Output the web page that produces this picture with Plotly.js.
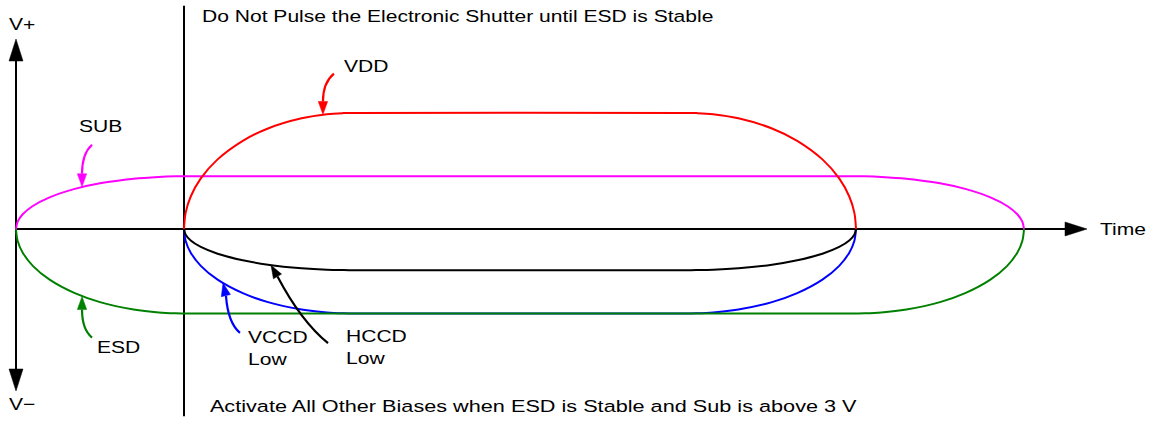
<!DOCTYPE html>
<html><head><meta charset="utf-8">
<script src="https://cdn.plot.ly/plotly-3.0.1.min.js"></script>
<style>
html,body{margin:0;padding:0;background:#fff;}
#chart{width:1154px;height:425px;}
.annotation-text{transform-box:fill-box;transform-origin:center;transform:scaleX(1.24);}
.annotation[data-index="1"] .annotation-text{transform:scaleX(1.275);}
</style></head><body><div id="chart"></div>
<script>
// ---- data (time in arbitrary units, voltage in arbitrary units) ----
const edgeTime = [0, 0.01, 0.04, 0.1, 0.2, 0.35, 0.5, 0.7, 0.85, 0.95, 1, 5, 5.05, 5.15, 5.3, 5.5, 5.65, 5.8, 5.9, 5.96, 5.99, 6];
const biasTime = [1, 1.01, 1.04, 1.1, 1.2, 1.35, 1.5, 1.7, 1.85, 1.95, 2, 4, 4.05, 4.15, 4.3, 4.5, 4.65, 4.8, 4.9, 4.96, 4.99, 5];
const subV  = [0, 0.7, 1.4, 2.18, 3.0, 3.8, 4.33, 4.77, 4.94, 4.994, 5, 5, 4.994, 4.94, 4.77, 4.33, 3.8, 3.0, 2.18, 1.4, 0.7, 0];
const esdV  = [0, -1.13, -2.24, -3.49, -4.8, -6.08, -6.93, -7.63, -7.91, -7.99, -8, -8, -7.99, -7.91, -7.63, -6.93, -6.08, -4.8, -3.49, -2.24, -1.13, 0];
const vddV  = [0, 1.55, 3.08, 4.8, 6.6, 8.36, 9.53, 10.49, 10.88, 10.986, 11, 11, 10.986, 10.88, 10.49, 9.53, 8.36, 6.6, 4.8, 3.08, 1.55, 0];
const hccdV = [0, -0.55, -1.09, -1.7, -2.34, -2.96, -3.38, -3.72, -3.86, -3.895, -3.9, -3.9, -3.895, -3.86, -3.72, -3.38, -2.96, -2.34, -1.7, -1.09, -0.55, 0];
const vccdV = [0, -1.13, -2.24, -3.49, -4.8, -6.08, -6.93, -7.63, -7.91, -7.99, -8, -8, -7.99, -7.91, -7.63, -6.93, -6.08, -4.8, -3.49, -2.24, -1.13, 0];

const seriesNames  = ['VCCD Low', 'HCCD Low', 'ESD', 'SUB', 'VDD'];
const seriesTimes  = [biasTime, biasTime, edgeTime, edgeTime, biasTime];
const seriesValues = [vccdV, hccdV, esdV, subV, vddV];
const seriesColors = ['#0000ff', '#000000', '#008000', '#ff00ff', '#ff0000'];

// label texts
const topNote    = 'Do Not Pulse the Electronic Shutter until ESD is Stable';
const bottomNote = 'Activate All Other Biases when ESD is Stable and Sub is above 3 V';
const axisLabels = ['V+', 'V\u2212', 'Time'];

// ---- layout helpers ----
const XR = [-16/168, (1154-16)/168];
const YR = [(229-425)/10.55, 229/10.55];

const traces = seriesNames.map((n, i) => ({
  type: 'scatter', mode: 'lines', name: n,
  x: seriesTimes[i], y: seriesValues[i],
  line: {color: seriesColors[i], width: 2, shape: 'spline', smoothing: 1},
  hoverinfo: 'skip', showlegend: false
}));

// screen offsets (dy downward) -> plotly pixel path (y up)
function P(p){ return p[0] + ',' + (-p[1]); }
function headPath(base, len, half){
  const L = Math.hypot(base[0], base[1]);
  const ux = base[0]/L, uy = base[1]/L;
  const bx = ux*len, by = uy*len;
  const px = -uy*half, py = ux*half;
  return 'M0,0L' + P([bx+px, by+py]) + 'L' + P([bx-px, by-py]) + 'Z';
}
function pixShape(t, v, path, color, filled, w){
  return {type:'path', xref:'x', yref:'y', xsizemode:'pixel', ysizemode:'pixel',
    xanchor:t, yanchor:v, path:path,
    line:{color:color, width: filled ? 0.5 : w},
    fillcolor: filled ? color : 'rgba(0,0,0,0)', layer:'above'};
}

const callouts = [
  {color:'#ff0000', t:1.827, v:10.85, tail:[11,-41], ctrl:[0,-32], base:[0,-13]},
  {color:'#ff00ff', t:0.393, v:4.0,   tail:[10,-42], ctrl:[0,-33], base:[0,-13]},
  {color:'#008000', t:0.393, v:-6.4,  tail:[10,41],  ctrl:[0,33],  base:[0,13]},
  {color:'#0000ff', t:1.232, v:-5.11, tail:[17,50],  ctrl:[5,40],  base:[3,13]},
  {color:'#000000', t:1.518, v:-3.43, tail:[57,78],  ctrl:[30,56], base:[6.5,11.3]}
];

const shapes = [
  // time axis
  {type:'line', xref:'x', yref:'y', x0:0, x1:6.33, y0:0, y1:0, line:{color:'#000', width:2}, layer:'below'},
  // voltage axis
  {type:'line', xref:'x', yref:'y', x0:0, x1:0, y0:-15.0, y1:17.7, line:{color:'#000', width:2}, layer:'below'},
  // marker line
  {type:'line', xref:'x', yref:'y', x0:1, x1:1, y0:-17.75, y1:21.15, line:{color:'#000', width:2}, layer:'below'},
  pixShape(6.375, 0, headPath([-22,0], 22, 7), '#000', true),
  pixShape(0, (229-39)/10.55, headPath([0,22], 22, 7), '#000', true),
  pixShape(0, (229-391)/10.55, headPath([0,-22], 22, 7), '#000', true)
];
callouts.forEach(c => {
  shapes.push(pixShape(c.t, c.v, 'M' + P(c.tail) + 'Q' + P(c.ctrl) + ' ' + P(c.base), c.color, false, 2.2));
  shapes.push(pixShape(c.t, c.v, headPath(c.base, 13, 4.7), c.color, true));
});

const F = {family:'"Liberation Sans", Arial, sans-serif', size:17, color:'#000'};
function lab(text, t, v, align){
  return {text:text, x:t, y:v, xref:'x', yref:'y', showarrow:false,
    xanchor:'center', yanchor:'middle', align: align || 'center', font:F};
}
const annotations = [
  lab(topNote, 2.625, 20.14),
  lab(bottomNote, 3.083, -16.87),
  lab('VDD', 2.086, 15.45),
  lab('SUB', 0.5, 9.72),
  lab('ESD', 0.613, -11.23),
  lab('VCCD<br>Low', 1.557, -11.33, 'left'),
  lab('HCCD<br>Low', 2.146, -11.23, 'left'),
  lab(axisLabels[2], 6.589, 0),
  lab(axisLabels[0], 0.036, 19.4),
  lab(axisLabels[1], 0.036, -16.65)
];

const layout = {
  width:1154, height:425, margin:{l:0, r:0, t:0, b:0},
  paper_bgcolor:'#fff', plot_bgcolor:'#fff',
  xaxis:{range:XR, visible:false, fixedrange:true},
  yaxis:{range:YR, visible:false, fixedrange:true},
  shapes:shapes, annotations:annotations, showlegend:false
};
Plotly.newPlot('chart', traces, layout, {displayModeBar:false, staticPlot:true});
</script></body></html>
